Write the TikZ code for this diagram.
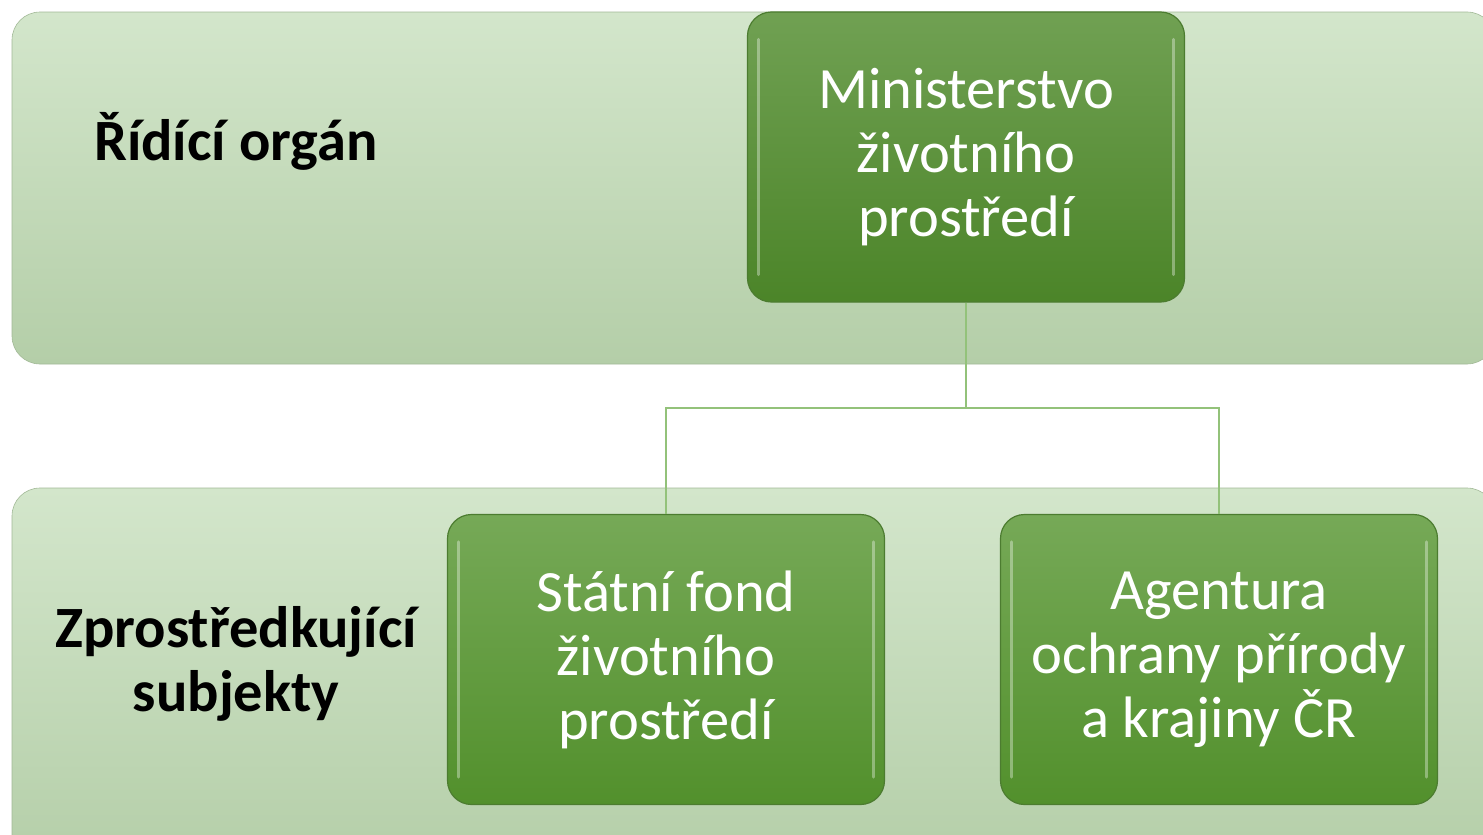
\documentclass[tikz,border=0pt]{standalone}
\usepackage{fontspec}
\setmainfont{Carlito}
\usetikzlibrary{positioning}
\definecolor{bandtop}{HTML}{D3E6CB}
\definecolor{bandbot}{HTML}{B4CEA8}
\definecolor{boxtop}{HTML}{76A957}
\definecolor{boxbot}{HTML}{52902C}
\definecolor{boxedge}{HTML}{4C7C30}
\definecolor{linkc}{HTML}{93C27A}
\tikzset{
  band/.style={rounded corners=28pt, top color=bandtop, bottom color=bandbot, draw=bandbot!90!black, line width=0.6pt},
  gbox/.style={rounded corners=24pt, top color=boxtop, bottom color=boxbot, draw=boxedge, line width=1.2pt,
    minimum width=437pt, minimum height=290pt, inner sep=0pt, text=white, align=center,
    font=\fontsize{58.5}{64}\selectfont},
  hilite/.style={draw=white, draw opacity=0.35, line width=3pt, line cap=round},
  lbl/.style={font=\fontsize{58.5}{64}\selectfont\bfseries, align=center, text=black},
  link/.style={draw=linkc, line width=2pt}
}
\begin{document}
\begin{tikzpicture}[x=1pt,y=-1pt]
\useasboundingbox (0,0) rectangle (1483,835);
\clip (0,0) rectangle (1483,835);
\path[band] (12,12) rectangle (1495,364);
\path[band] (12,488) rectangle (1495,870);
\node[lbl] (l1) at (236,141) {Řídící orgán};
\node[lbl] (l2) at (236,664) {Zprostředkující\\subjekty};
\node[gbox, top color=boxtop!95!black, bottom color=boxbot!92!black] (mzp) at (966,157) {Ministerstvo\\životního\\prostředí};
\node[gbox] (sfzp) at (666,659.5) {Státní fond\\životního\\prostředí};
\node[gbox] (aop) at (1219,659.5) {Agentura\\ochrany přírody\\a krajiny ČR};
\foreach \n in {mzp,sfzp,aop}{
  \path[hilite] ([shift={(12pt,28pt)}]\n.south west) -- ([shift={(12pt,-28pt)}]\n.north west);
  \path[hilite] ([shift={(-12pt,28pt)}]\n.south east) -- ([shift={(-12pt,-28pt)}]\n.north east);
}
\coordinate (j) at (966,408);
\draw[link] (mzp.south) -- (j) -| (sfzp.north);
\draw[link] (j) -| (aop.north);
\end{tikzpicture}
\end{document}
